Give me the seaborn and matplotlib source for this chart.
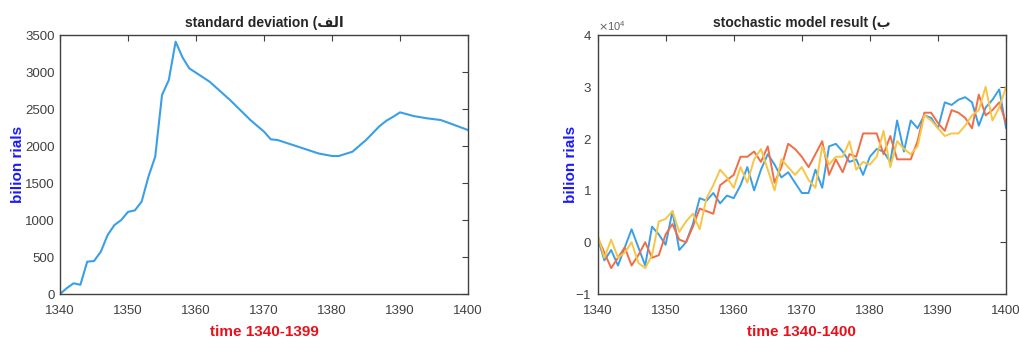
import numpy as np
import pandas as pd
import matplotlib
matplotlib.use("Agg")
import matplotlib.pyplot as plt
import matplotlib.ticker as mticker
import seaborn as sns

# ---------------- data ----------------
years_sd = [1340, 1341, 1342, 1343, 1344, 1345, 1346, 1347, 1348, 1349,
            1350, 1351, 1352, 1353, 1354, 1355, 1356, 1357, 1358, 1359,
            1360, 1362, 1365, 1368, 1370, 1371, 1372, 1375, 1378, 1380,
            1381, 1383, 1385, 1387, 1388, 1389, 1390, 1392, 1394, 1396,
            1398, 1400]
std_dev = [0, 80, 145, 125, 437, 446, 572, 797, 932, 1000,
           1110, 1130, 1248, 1585, 1856, 2690, 2892, 3410, 3200, 3050,
           2990, 2869, 2622, 2351, 2194, 2090, 2081, 1991, 1900, 1865,
           1865, 1923, 2081, 2270, 2342, 2396, 2455, 2405, 2374, 2351,
           2284, 2216]

years = list(range(1340, 1401))
run_blue = [0.10, -0.35, -0.15, -0.45, -0.10, 0.25, -0.10, -0.45, 0.30, 0.15,
            -0.05, 0.60, -0.15, 0.00, 0.35, 0.85, 0.80, 0.95, 0.75, 0.90,
            0.85, 1.10, 1.45, 1.00, 1.40, 1.70, 1.50, 1.25, 1.35, 1.15,
            0.95, 0.95, 1.40, 1.05, 1.85, 1.90, 1.75, 1.55, 1.60, 1.30,
            1.65, 1.80, 1.75, 1.55, 2.35, 1.75, 2.35, 2.20, 2.45, 2.40,
            2.20, 2.70, 2.65, 2.75, 2.80, 2.70, 2.25, 2.60, 2.75, 2.95,
            2.20]
run_orange = [0.10, -0.20, -0.50, -0.30, -0.10, -0.45, -0.25, 0.00, -0.30, -0.25,
              0.15, 0.35, 0.05, 0.00, 0.30, 0.65, 0.60, 0.55, 1.10, 1.20,
              1.30, 1.65, 1.65, 1.75, 1.55, 1.85, 1.15, 1.45, 1.90, 1.80,
              1.65, 1.45, 1.70, 1.95, 1.30, 1.60, 1.35, 1.70, 1.65, 2.10,
              2.10, 2.10, 1.70, 2.05, 1.60, 1.60, 1.60, 1.95, 2.50, 2.50,
              2.30, 2.15, 2.55, 2.50, 2.40, 2.20, 2.85, 2.45, 2.55, 2.70,
              2.30]
run_yellow = [0.15, -0.30, 0.05, -0.30, -0.20, 0.00, -0.40, -0.50, -0.25, 0.40,
              0.45, 0.60, 0.20, 0.40, 0.55, 0.25, 0.85, 1.10, 1.40, 1.25,
              1.05, 1.45, 1.15, 1.60, 1.80, 1.40, 1.00, 1.60, 1.45, 1.30,
              1.45, 1.20, 1.05, 1.85, 1.50, 1.65, 1.65, 1.95, 1.40, 1.55,
              1.50, 1.65, 2.15, 1.45, 1.95, 1.80, 1.70, 1.85, 2.45, 2.35,
              2.20, 2.05, 2.10, 2.10, 2.25, 2.45, 2.55, 3.00, 2.35, 2.60,
              3.00]
scale = 1e4

x_ticks = [1340, 1350, 1360, 1370, 1380, 1390, 1400]
title_left = "standard deviation (ﻒﻟﺍ"
title_right = "stochastic model result (ﺏ"
ylabel = "bilion rials"
xlabel_left = "time 1340-1399"
xlabel_right = "time 1340-1400"

# ---------------- style ----------------
sns.set_style("white")
plt.rcParams['font.family'] = ['Liberation Sans', 'DejaVu Sans']
plt.rcParams['axes.edgecolor'] = '#404040'
plt.rcParams['axes.linewidth'] = 1.0

c_blue = '#3a9fe6'
c_orange = '#ef6e48'
c_yellow = '#f7c646'

fig = plt.figure(figsize=(10.19, 3.44), dpi=100)
axL = fig.add_axes([0.0589, 0.1453, 0.4004, 0.7529])
axR = fig.add_axes([0.5864, 0.1453, 0.4009, 0.7529])

df_sd = pd.DataFrame({"year": years_sd, "sd": std_dev})
sns.lineplot(data=df_sd, x="year", y="sd", ax=axL, color=c_blue, lw=1.5)

df_runs = pd.DataFrame({
    "year": years * 3,
    "value": [v * scale for v in run_blue + run_orange + run_yellow],
    "run": ["a"] * len(years) + ["b"] * len(years) + ["c"] * len(years),
})
sns.lineplot(data=df_runs, x="year", y="value", hue="run", ax=axR,
             palette=[c_blue, c_orange, c_yellow], lw=1.4, legend=False,
             estimator=None)

for ax in (axL, axR):
    ax.set_xlim(1340, 1400)
    ax.set_xticks(x_ticks)
    ax.tick_params(direction='in', top=True, right=True, length=4,
                   labelsize=9.5, labelcolor='#404040', color='#404040', pad=4)
    ax.tick_params(axis='x', pad=8)
    for s in ax.spines.values():
        s.set_visible(True)
        s.set_color('#404040')
    ax.set_ylabel(ylabel, color='#1a1aff', fontweight='bold', fontsize=11)
    ax.grid(False)

axL.set_ylim(0, 3500)
axL.set_yticks(range(0, 3501, 500))
axL.set_title(title_left, fontweight='bold', fontsize=10, pad=6)
axL.set_xlabel(xlabel_left, color='#e8101a', fontweight='bold', fontsize=11, labelpad=6)

axR.set_ylim(-1e4, 4e4)
axR.set_yticks([-1e4, 0, 1e4, 2e4, 3e4, 4e4])
fmt = mticker.ScalarFormatter(useMathText=True)
fmt.set_powerlimits((0, 0))
axR.yaxis.set_major_formatter(fmt)
axR.yaxis.get_offset_text().set_fontsize(8)
axR.yaxis.get_offset_text().set_color('#606060')
axR.set_title(title_right, fontweight='bold', fontsize=10, pad=6)
axR.set_xlabel(xlabel_right, color='#e8101a', fontweight='bold', fontsize=11, labelpad=6)

axL.yaxis.set_label_coords(-0.085, 0.5)
axR.yaxis.set_label_coords(-0.047, 0.5)

fig.savefig("out.png", dpi=100)
